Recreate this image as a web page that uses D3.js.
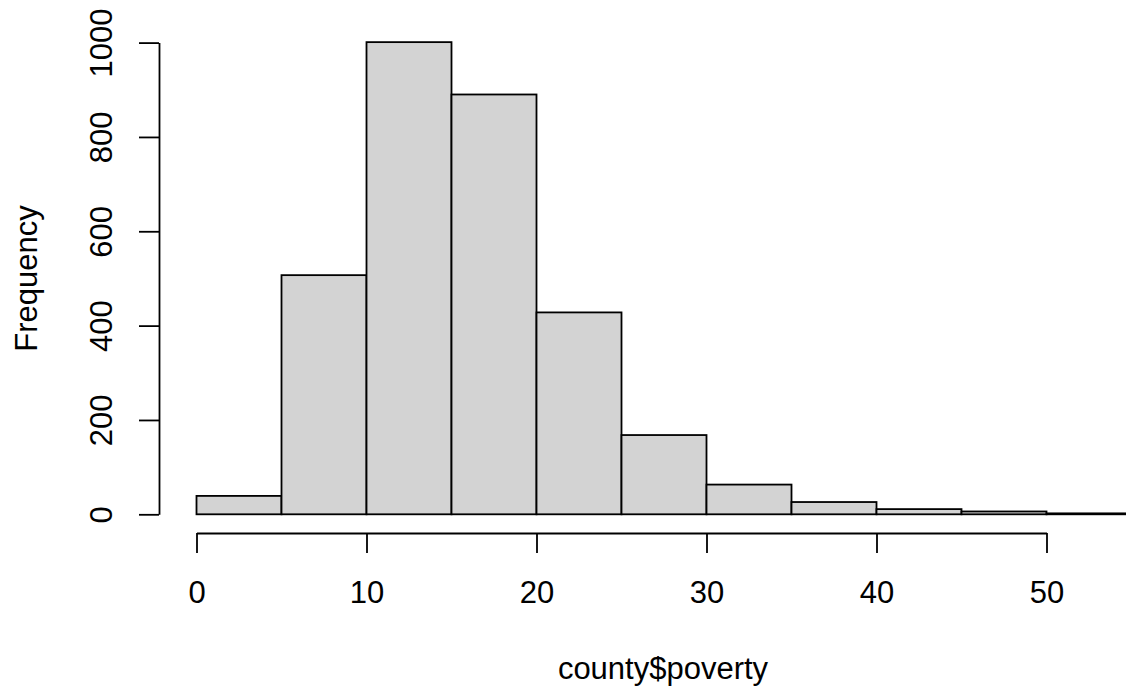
<!DOCTYPE html>
<html>
<head>
<meta charset="utf-8">
<script src="https://cdn.jsdelivr.net/npm/d3@7"></script>
<style>
  html, body { margin: 0; padding: 0; background: #ffffff; }
  svg { display: block; }
  text { font-family: "Liberation Sans", Arial, Helvetica, sans-serif; fill: #000; }
</style>
</head>
<body>
<svg id="chart" width="1126" height="690"></svg>
<script>
// Histogram bins (county$poverty, bin width 5)
const binStarts = [0, 5, 10, 15, 20, 25, 30, 35, 40, 45, 50];
const binWidth = 5;
const counts = [39, 507, 1001, 890, 428, 168, 63, 26, 11, 6, 2];
const xTicks = [0, 10, 20, 30, 40, 50];
const yTicks = [0, 200, 400, 600, 800, 1000];
const xLabel = "county$poverty";
const yLabel = "Frequency";

const svg = d3.select("#chart");
const fontSize = 31;

const x = d3.scaleLinear().domain([0, 50]).range([196.5, 1046.5]);
const y = d3.scaleLinear().domain([0, 1000]).range([514.3, 42.6]);

const bins = binStarts.map((s, i) => ({ x0: s, x1: s + binWidth, n: counts[i] }));

// Bars
svg.append("g")
  .selectAll("rect")
  .data(bins)
  .join("rect")
  .attr("x", d => x(d.x0))
  .attr("y", d => y(d.n))
  .attr("width", d => x(d.x1) - x(d.x0))
  .attr("height", d => y(0) - y(d.n))
  .attr("fill", "#D3D3D3")
  .attr("stroke", "#000")
  .attr("stroke-width", 1.8);

// X axis
const xAxis = svg.append("g")
  .attr("transform", "translate(0,533)")
  .call(d3.axisBottom(x).tickValues(xTicks).tickSize(20).tickSizeOuter(0).tickFormat(d3.format("d")));
xAxis.select(".domain").attr("stroke", "#000").attr("stroke-width", 1.8);
xAxis.selectAll(".tick line").attr("stroke", "#000").attr("stroke-width", 1.8);
xAxis.selectAll(".tick text")
  .attr("y", 70).attr("dy", null)
  .style("font-size", fontSize + "px")
  .style("font-family", "'Liberation Sans', Arial, sans-serif")
  .attr("fill", "#000");

// Y axis
const yAxis = svg.append("g")
  .attr("transform", "translate(159,0)")
  .call(d3.axisLeft(y).tickValues(yTicks).tickSize(20).tickSizeOuter(0).tickFormat(d3.format("d")));
yAxis.select(".domain").attr("stroke", "#000").attr("stroke-width", 1.8);
yAxis.selectAll(".tick line").attr("stroke", "#000").attr("stroke-width", 1.8);
yAxis.selectAll(".tick text")
  .attr("x", 0).attr("y", -47).attr("dy", null)
  .attr("transform", "rotate(-90)")
  .attr("text-anchor", "middle")
  .style("font-size", fontSize + "px")
  .style("font-family", "'Liberation Sans', Arial, sans-serif")
  .attr("fill", "#000");

// Axis titles
svg.append("text")
  .attr("x", 663).attr("y", 679)
  .attr("text-anchor", "middle")
  .style("font-size", fontSize + "px")
  .text(xLabel);

svg.append("text")
  .attr("transform", "translate(37,278.5) rotate(-90)")
  .attr("text-anchor", "middle")
  .style("font-size", fontSize + "px")
  .text(yLabel);
</script>
</body>
</html>
